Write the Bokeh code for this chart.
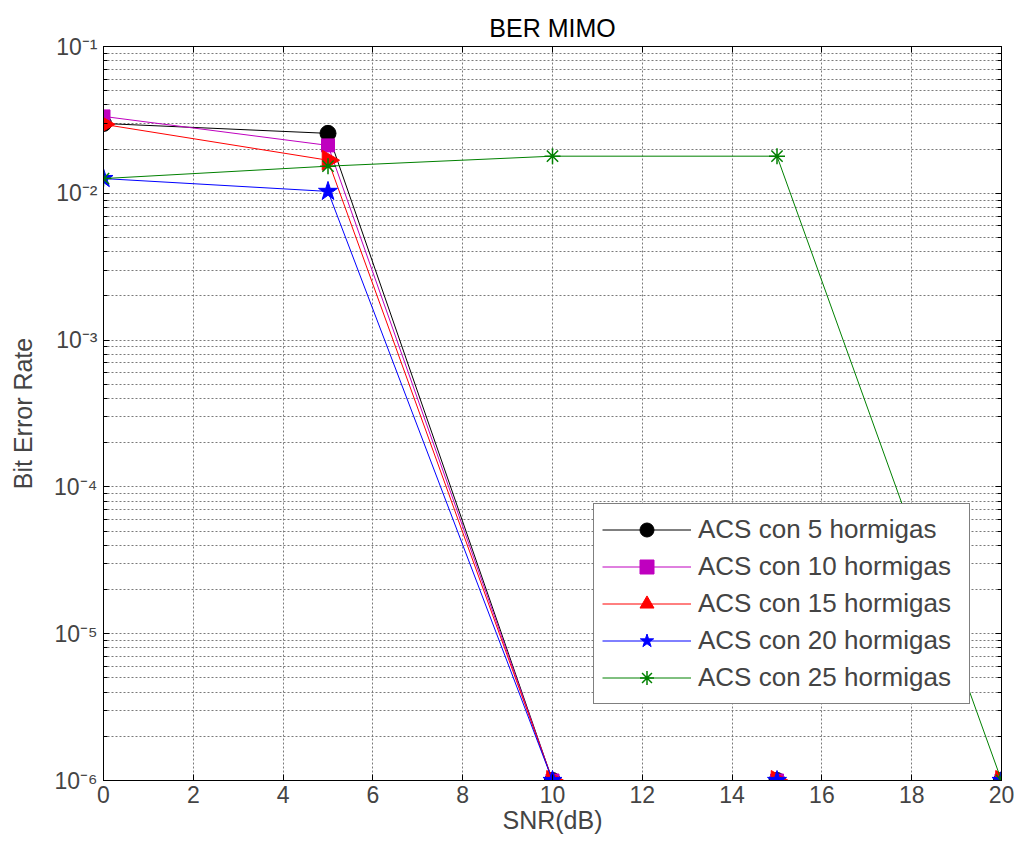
import numpy as np
from bokeh.plotting import figure
from bokeh.models import (FixedTicker, CustomJSTickFormatter, LinearAxis, LogAxis,
                          Legend, LegendItem, Range1d)
from bokeh.embed import file_html
from bokeh.resources import INLINE

# ---------------- data ----------------
snr = [0, 5, 10, 15, 20]
ber_5 = [0.0299, 0.0256, 1e-6, 1e-6, 1e-6]
ber_10 = [0.0334, 0.0212, 1e-6, 1e-6, 1e-6]
ber_15 = [0.0295, 0.0168, 1e-6, 1e-6, 1e-6]
ber_20 = [0.0126, 0.0103, 1e-6, 1e-6, 1e-6]
ber_25 = [0.0126, 0.0153, 0.0179, 0.0179, 1e-6]
labels = ["ACS con 5 hormigas", "ACS con 10 hormigas", "ACS con 15 hormigas",
          "ACS con 20 hormigas", "ACS con 25 hormigas"]
x_ticks = [0, 2, 4, 6, 8, 10, 12, 14, 16, 18, 20]
y_ticks = [1e-6, 1e-5, 1e-4, 1e-3, 1e-2, 1e-1]
y_minor = [k * d for d in [1e-6, 1e-5, 1e-4, 1e-3, 1e-2] for k in range(2, 10)]

FONT = "Liberation Sans"

p = figure(width=1014, height=841, y_axis_type="log",
           x_range=Range1d(0, 20), y_range=Range1d(1e-6, 1e-1),
           output_backend="svg", toolbar_location=None,
           min_border_left=103, min_border_right=13, min_border_top=46,
           min_border_bottom=61, title="BER MIMO")

p.title.align = "center"
p.title.text_font = FONT
p.title.text_font_size = "25px"
p.title.text_font_style = "normal"
p.title.text_color = "black"

p.outline_line_color = "black"
p.outline_line_width = 1
p.background_fill_color = "white"
p.border_fill_color = "white"

sup_js = """
const m = {"-":"\u207b","0":"\u2070","1":"\u00b9","2":"\u00b2","3":"\u00b3","4":"\u2074",
           "5":"\u2075","6":"\u2076","7":"\u2077","8":"\u2078","9":"\u2079"};
const e = Math.round(Math.log10(tick));
return "10" + String(e).split("").map(c => m[c]).join("");
"""

xa = p.xaxis[0]
xa.ticker = FixedTicker(ticks=x_ticks, minor_ticks=[])
xa.axis_label = "SNR(dB)"
ya = p.yaxis[0]
ya.ticker = FixedTicker(ticks=y_ticks, minor_ticks=y_minor)
ya.formatter = CustomJSTickFormatter(code=sup_js)
ya.axis_label = "Bit Error Rate"
for ax in (xa, ya):
    ax.axis_label_text_font = FONT
    ax.axis_label_text_font_size = "25px"
    ax.axis_label_text_font_style = "normal"
    ax.major_label_text_font = FONT
    ax.major_label_text_font_size = "23px"
    ax.major_tick_in = 6
    ax.major_tick_out = 0
    ax.minor_tick_in = 4
    ax.minor_tick_out = 0
    ax.axis_line_color = "black"
    ax.major_tick_line_color = "black"
    ax.minor_tick_line_color = "black"
xa.major_label_standoff = 5
xa.axis_label_standoff = 0
ya.major_label_standoff = 6
ya.axis_label_standoff = 14

top = LinearAxis(ticker=FixedTicker(ticks=x_ticks, minor_ticks=[]),
                 formatter=CustomJSTickFormatter(code="return ''"))
right = LogAxis(ticker=FixedTicker(ticks=y_ticks, minor_ticks=y_minor),
                formatter=CustomJSTickFormatter(code="return ''"))
for ax in (top, right):
    ax.major_label_text_font_size = "0px"
    ax.major_label_standoff = 0
    ax.major_tick_in = 6
    ax.major_tick_out = 0
    ax.minor_tick_in = 4
    ax.minor_tick_out = 0
    ax.axis_line_color = "black"
p.add_layout(top, "above")
p.add_layout(right, "right")

p.xgrid.ticker = FixedTicker(ticks=x_ticks)
p.ygrid.ticker = FixedTicker(ticks=y_ticks, minor_ticks=y_minor)
p.xgrid.grid_line_color = "#7a7a7a"
p.xgrid.grid_line_dash = "2 2"
p.ygrid.grid_line_color = "#7a7a7a"
p.ygrid.grid_line_dash = "2 2"
p.ygrid.minor_grid_line_color = "#7a7a7a"
p.ygrid.minor_grid_line_dash = "2 2"

series = [
    (ber_5, "black", "circle", 16, 0.0),
    (ber_10, "#bf00bf", "square", 13, 0.0),
    (ber_15, "red", "triangle", 20, -np.pi / 2),
    (ber_20, "blue", "star", 20, 0.0),
    (ber_25, "#008000", "asterisk", 16, 0.0),
]
items = []
for (ys, col, mk, sz, ang), lab in zip(series, labels):
    lr = p.line(snr, ys, line_color=col, line_width=1)
    if mk == "asterisk":
        sr = p.scatter(snr, ys, marker=mk, size=sz, line_color=col, line_width=1.5)
    else:
        sr = p.scatter(snr, ys, marker=mk, size=sz, fill_color=col, line_color=col, angle=ang)
    items.append(LegendItem(label=lab, renderers=[lr, sr]))

legend = Legend(items=items, location=(490, 76))
legend.label_text_font = FONT
legend.label_text_font_size = "26px"
legend.glyph_width = 89
legend.glyph_height = 35
legend.label_standoff = 7
legend.label_width = 263
legend.spacing = 2
legend.padding = 8
legend.margin = 0
legend.border_line_color = "black"
legend.border_line_width = 1
legend.background_fill_color = "white"
legend.background_fill_alpha = 1
p.add_layout(legend)

open("out.html", "w").write(file_html(p, INLINE))
